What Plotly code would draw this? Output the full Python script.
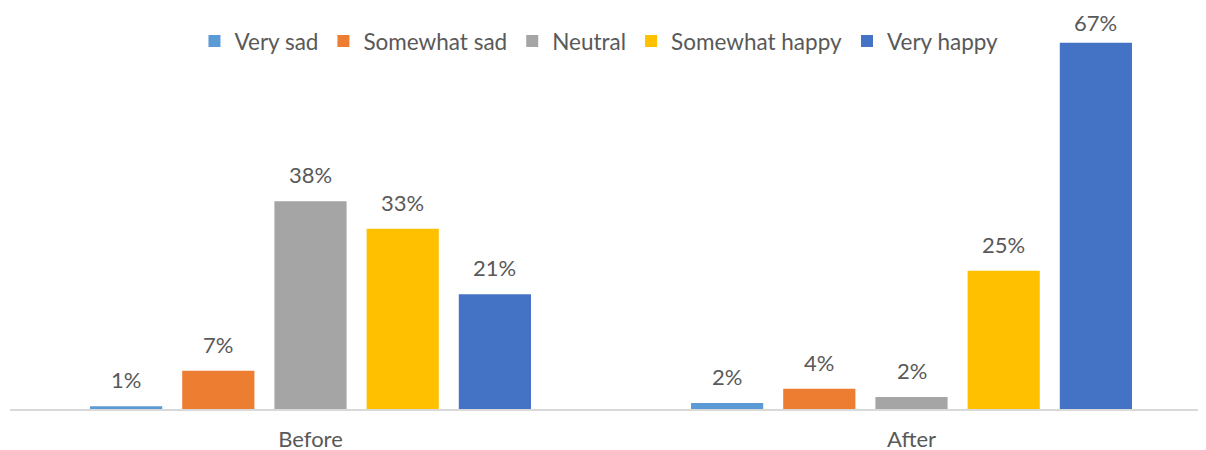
import plotly.graph_objects as go

categories = ["Before", "After"]
series_names = ["Very sad", "Somewhat sad", "Neutral", "Somewhat happy", "Very happy"]
very_sad = [0.5, 1.1]
somewhat_sad = [7, 3.7]
neutral = [38, 2.2]
somewhat_happy = [33, 25.3]
very_happy = [21, 67]
very_sad_labels = ["1%", "2%"]
somewhat_sad_labels = ["7%", "4%"]
neutral_labels = ["38%", "2%"]
somewhat_happy_labels = ["33%", "25%"]
very_happy_labels = ["21%", "67%"]

colors = ["#5B9BD5", "#ED7D31", "#A5A5A5", "#FFC000", "#4472C4"]
values = [very_sad, somewhat_sad, neutral, somewhat_happy, very_happy]
labels = [very_sad_labels, somewhat_sad_labels, neutral_labels, somewhat_happy_labels, very_happy_labels]

FONT = "Lato, 'Open Sans', sans-serif"
TXT = "#595959"
FS = 22

W, H = 1206, 450
ML, MR, MT, MB = 2, 2, 2, 49
BARGAP, GROUPGAP = 0.233, 0.217
YMAX = 73

fig = go.Figure()
for name, vals, col in zip(series_names, values, colors):
    fig.add_trace(go.Bar(
        name=name, x=categories, y=vals,
        marker_color=col, marker_line_width=0, hoverinfo="skip",
    ))

# data labels above bars, horizontally offset to each bar's slot in the group
plot_w = W - ML - MR
plot_h = H - MT - MB
px_per_unit = plot_h / YMAX
slot = plot_w / len(categories) * (1 - BARGAP) / len(series_names)
n = len(series_names)
LABEL_BOX = 28
for i, (vals, labs) in enumerate(zip(values, labels)):
    for cat, v, lab in zip(categories, vals, labs):
        room = MT + (YMAX - v) * px_per_unit - LABEL_BOX - 2
        fig.add_annotation(
            x=cat, y=v, xref="x", yref="y", text=lab, showarrow=False,
            xshift=(i - (n - 1) / 2) * slot, yanchor="bottom",
            yshift=min(11, room),
            font=dict(family=FONT, size=FS, color=TXT),
        )

fig.update_layout(
    width=W, height=H,
    margin=dict(l=ML, r=MR, t=MT, b=MB),
    paper_bgcolor="white", plot_bgcolor="white",
    barmode="group", bargap=BARGAP, bargroupgap=GROUPGAP,
    font=dict(family=FONT, size=FS, color=TXT),
    legend=dict(orientation="h", x=0.49, xanchor="center", y=0.975, yanchor="top",
                font=dict(family=FONT, size=22.5, color=TXT), bgcolor="rgba(0,0,0,0)"),
    xaxis=dict(showline=True, linecolor="#D9D9D9", linewidth=2, ticks="",
               showgrid=False, ticklabelstandoff=10,
               tickfont=dict(family=FONT, size=FS, color=TXT)),
    yaxis=dict(range=[0, YMAX], visible=False, showgrid=False, zeroline=False),
)

fig.write_html("out.html")
